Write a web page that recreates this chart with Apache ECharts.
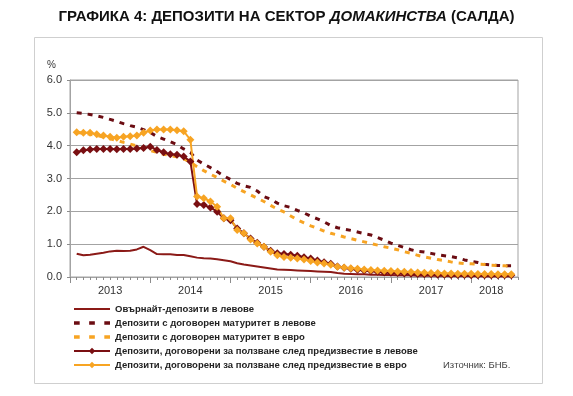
<!DOCTYPE html>
<html>
<head>
<meta charset="utf-8">
<script src="https://cdn.jsdelivr.net/npm/echarts@6/dist/echarts.min.js"></script>
<style>
  html, body { margin: 0; padding: 0; background: #fff; }
  #chart { width: 573px; height: 396px; }
</style>
</head>
<body>
<div id="chart"></div>
<script>
// години по оста, данни от 01.2013 (месечни, края на месеца)
var years = ['2013', '2014', '2015', '2016', '2017', '2018'];
var monthsTotal = 67; // до 07.2018 по оста

// Овърнайт-депозити в левове
var overnightBgn = [0.71, 0.66, 0.68, 0.71, 0.74, 0.78, 0.80, 0.79, 0.80, 0.84,
    0.92, 0.82, 0.70, 0.69, 0.69, 0.67, 0.67, 0.63, 0.59, 0.57,
    0.56, 0.54, 0.51, 0.48, 0.42, 0.38, 0.35, 0.32, 0.29, 0.26,
    0.23, 0.22, 0.21, 0.20, 0.19, 0.18, 0.17, 0.16, 0.15, 0.12,
    0.10, 0.09, 0.08, 0.08, 0.07, 0.07, 0.06, 0.06, 0.05, 0.05,
    0.05, 0.04, 0.04, 0.04, 0.04, 0.03, 0.03, 0.03, 0.03, 0.03,
    0.03, 0.02, 0.02, 0.02, 0.02, 0.02];
// Депозити с договорен матуритет в левове
var termBgn = [5.00, 4.98, 4.95, 4.91, 4.86, 4.80, 4.74, 4.67, 4.61, 4.56,
    4.49, 4.40, 4.28, 4.20, 4.12, 4.03, 3.90, 3.80, 3.56, 3.44,
    3.33, 3.21, 3.08, 2.97, 2.85, 2.78, 2.73, 2.62, 2.45, 2.37,
    2.25, 2.17, 2.12, 2.03, 1.95, 1.85, 1.77, 1.68, 1.57, 1.50,
    1.46, 1.42, 1.37, 1.32, 1.28, 1.20, 1.12, 1.03, 0.96, 0.90,
    0.83, 0.78, 0.76, 0.72, 0.68, 0.65, 0.62, 0.58, 0.52, 0.48,
    0.44, 0.39, 0.37, 0.35, 0.34, 0.34];
// Депозити с договорен матуритет в евро
var termEur = [4.40, 4.38, 4.35, 4.31, 4.26, 4.21, 4.16, 4.10, 4.05, 3.99,
    3.92, 3.85, 3.80, 3.74, 3.70, 3.66, 3.60, 3.50, 3.36, 3.24,
    3.13, 3.03, 2.92, 2.82, 2.70, 2.60, 2.50, 2.40, 2.30, 2.18,
    2.07, 1.98, 1.86, 1.74, 1.65, 1.56, 1.48, 1.40, 1.33, 1.28,
    1.22, 1.17, 1.12, 1.07, 1.02, 0.97, 0.92, 0.88, 0.83, 0.77,
    0.72, 0.66, 0.61, 0.57, 0.53, 0.50, 0.46, 0.43, 0.41, 0.40,
    0.39, 0.38, 0.36, 0.35, 0.34, 0.33];
// Депозити, договорени за ползване след предизвестие в левове
var noticeBgn = [3.80, 3.86, 3.88, 3.90, 3.90, 3.90, 3.89, 3.90, 3.90, 3.91,
    3.93, 3.97, 3.87, 3.80, 3.74, 3.72, 3.67, 3.52, 2.22, 2.19,
    2.12, 1.99, 1.79, 1.73, 1.48, 1.33, 1.17, 1.04, 0.92, 0.80,
    0.72, 0.70, 0.68, 0.65, 0.60, 0.56, 0.50, 0.45, 0.40, 0.32,
    0.28, 0.25, 0.22, 0.20, 0.18, 0.16, 0.14, 0.13, 0.12, 0.11,
    0.10, 0.09, 0.08, 0.08, 0.07, 0.07, 0.06, 0.06, 0.06, 0.05,
    0.05, 0.05, 0.05, 0.05, 0.05, 0.05];
// Депозити, договорени за ползване след предизвестие в евро
var noticeEur = [4.41, 4.39, 4.39, 4.35, 4.31, 4.27, 4.24, 4.27, 4.29, 4.31,
    4.39, 4.46, 4.49, 4.49, 4.49, 4.47, 4.44, 4.18, 2.45, 2.40,
    2.30, 2.14, 1.79, 1.79, 1.43, 1.33, 1.14, 1.02, 0.92, 0.77,
    0.66, 0.61, 0.59, 0.56, 0.53, 0.49, 0.44, 0.41, 0.37, 0.31,
    0.29, 0.27, 0.25, 0.23, 0.21, 0.20, 0.19, 0.18, 0.17, 0.16,
    0.15, 0.14, 0.13, 0.12, 0.12, 0.11, 0.11, 0.10, 0.10, 0.10,
    0.09, 0.09, 0.09, 0.08, 0.08, 0.08];

var seriesNames = [
    'Овърнайт-депозити в левове',
    'Депозити с договорен матуритет в левове',
    'Депозити с договорен матуритет в евро',
    'Депозити, договорени за ползване след предизвестие в левове',
    'Депозити, договорени за ползване след предизвестие в евро'
];

var darkRed = '#7a0f12';
var orange = '#f7a423';
var fontFam = '"Liberation Sans", Arial, sans-serif';

// иконки за легендата (плътна линия и прекъсната)
var iconSolid = 'path://M0,0h38v2.2h-38z';
var iconDash = 'path://M0,0h6v3.5h-6z M16,0h6v3.5h-6z M32,0h6v3.5h-6z';

// граници на месеците по оста (0 = начало на 2013)
var months = [];
for (var k = 0; k <= monthsTotal; k++) {
    months.push(years[0].slice(0, 2) + (13 + Math.floor(k / 12)) + '-' + (k % 12 + 1));
}

// къде да стои надписът на годината - по средата на отрязъка
function yearLabel(idx) {
    var y = Math.floor(idx / 12);
    var start = y * 12;
    var end = Math.min(start + 12, monthsTotal);
    return idx === Math.floor((start + end) / 2) ? years[y] : null;
}

// данните са към края на месеца -> индекс i+1
function toPairs(arr) {
    return arr.map(function (v, i) { return [i + 1, v]; });
}

var myChart = echarts.init(document.getElementById('chart'));

var option = {
    animation: false,
    textStyle: { fontFamily: fontFam },
    title: {
        left: 'center',
        top: 4,
        text: '{b|ГРАФИКА 4: ДЕПОЗИТИ НА СЕКТОР }{i|ДОМАКИНСТВА}{b| (САЛДА)}',
        textStyle: {
            rich: {
                b: { fontSize: 15, fontWeight: 'bold', color: '#111', fontFamily: fontFam },
                i: { fontSize: 15, fontWeight: 'bold', fontStyle: 'italic', color: '#111', fontFamily: fontFam }
            }
        }
    },
    grid: {
        left: 70,
        right: 55,
        top: 80,
        bottom: 119,
        show: true,
        borderColor: '#a3a3a3',
        borderWidth: 1
    },
    legend: {
        orient: 'vertical',
        left: 73,
        top: 304,
        padding: 0,
        itemWidth: 36,
        itemHeight: 8,
        itemGap: 4,
        data: [
            { name: seriesNames[0], icon: iconSolid },
            { name: seriesNames[1], icon: iconDash },
            { name: seriesNames[2], icon: iconDash },
            { name: seriesNames[3] },
            { name: seriesNames[4] }
        ],
        textStyle: { fontSize: 9.5, fontWeight: 'bold', color: '#222', lineHeight: 10, fontFamily: fontFam }
    },
    xAxis: [
        {
            type: 'category',
            data: months,
            boundaryGap: false,
            axisLine: { lineStyle: { color: '#a3a3a3', width: 1 } },
            axisTick: { show: true, interval: 0, length: 3, lineStyle: { color: '#8c8c8c' } },
            axisLabel: {
                interval: function (idx) { return yearLabel(idx) !== null; },
                formatter: function (val, idx) { return yearLabel(idx) || ''; },
                fontSize: 11,
                color: '#333',
                margin: 8
            },
            splitLine: { show: false }
        },
        {
            type: 'category',
            data: months,
            boundaryGap: false,
            position: 'bottom',
            axisLine: { show: false },
            axisTick: {
                show: true,
                interval: function (idx) { return idx % 12 === 0; },
                length: 6,
                lineStyle: { color: '#8c8c8c' }
            },
            axisLabel: { show: false },
            splitLine: { show: false }
        }
    ],
    yAxis: {
        type: 'value',
        min: 0,
        max: 6,
        interval: 1,
        name: '%',
        nameLocation: 'end',
        nameGap: 10,
        nameTextStyle: { fontSize: 10, color: '#333', align: 'right', padding: [0, 14, 0, 0] },
        axisLine: { show: true, lineStyle: { color: '#a3a3a3' } },
        axisTick: { show: true, length: 3, lineStyle: { color: '#8c8c8c' } },
        axisLabel: {
            fontSize: 11,
            color: '#333',
            margin: 8,
            formatter: function (v) { return v.toFixed(1); }
        },
        splitLine: { lineStyle: { color: '#a3a3a3', width: 1 } }
    },
    series: [
        {
            name: seriesNames[0],
            type: 'line',
            symbol: 'none',
            data: toPairs(overnightBgn),
            lineStyle: { color: '#8b1a17', width: 2 },
            itemStyle: { color: '#8b1a17' }
        },
        {
            name: seriesNames[1],
            type: 'line',
            symbol: 'none',
            data: toPairs(termBgn),
            lineStyle: { color: '#6b0c12', width: 3, type: [5, 6] },
            itemStyle: { color: '#6b0c12' }
        },
        {
            name: seriesNames[2],
            type: 'line',
            symbol: 'none',
            data: toPairs(termEur),
            lineStyle: { color: orange, width: 3, type: [5, 6] },
            itemStyle: { color: orange }
        },
        {
            name: seriesNames[3],
            type: 'line',
            symbol: 'diamond',
            symbolSize: 8,
            showAllSymbol: true,
            data: toPairs(noticeBgn),
            lineStyle: { color: darkRed, width: 2 },
            itemStyle: { color: darkRed }
        },
        {
            name: seriesNames[4],
            type: 'line',
            symbol: 'diamond',
            symbolSize: 8,
            showAllSymbol: true,
            data: toPairs(noticeEur),
            lineStyle: { color: orange, width: 2 },
            itemStyle: { color: orange }
        }
    ],
    graphic: [
        {
            type: 'rect',
            silent: true,
            shape: { x: 34.5, y: 37.5, width: 508, height: 346 },
            style: { fill: null, stroke: '#cfcfcf', lineWidth: 1 }
        },
        {
            type: 'text',
            left: 443,
            top: 360,
            style: { text: 'Източник: БНБ.', fontSize: 9.5, fill: '#444', fontFamily: fontFam }
        }
    ]
};

myChart.setOption(option);
</script>
</body>
</html>
